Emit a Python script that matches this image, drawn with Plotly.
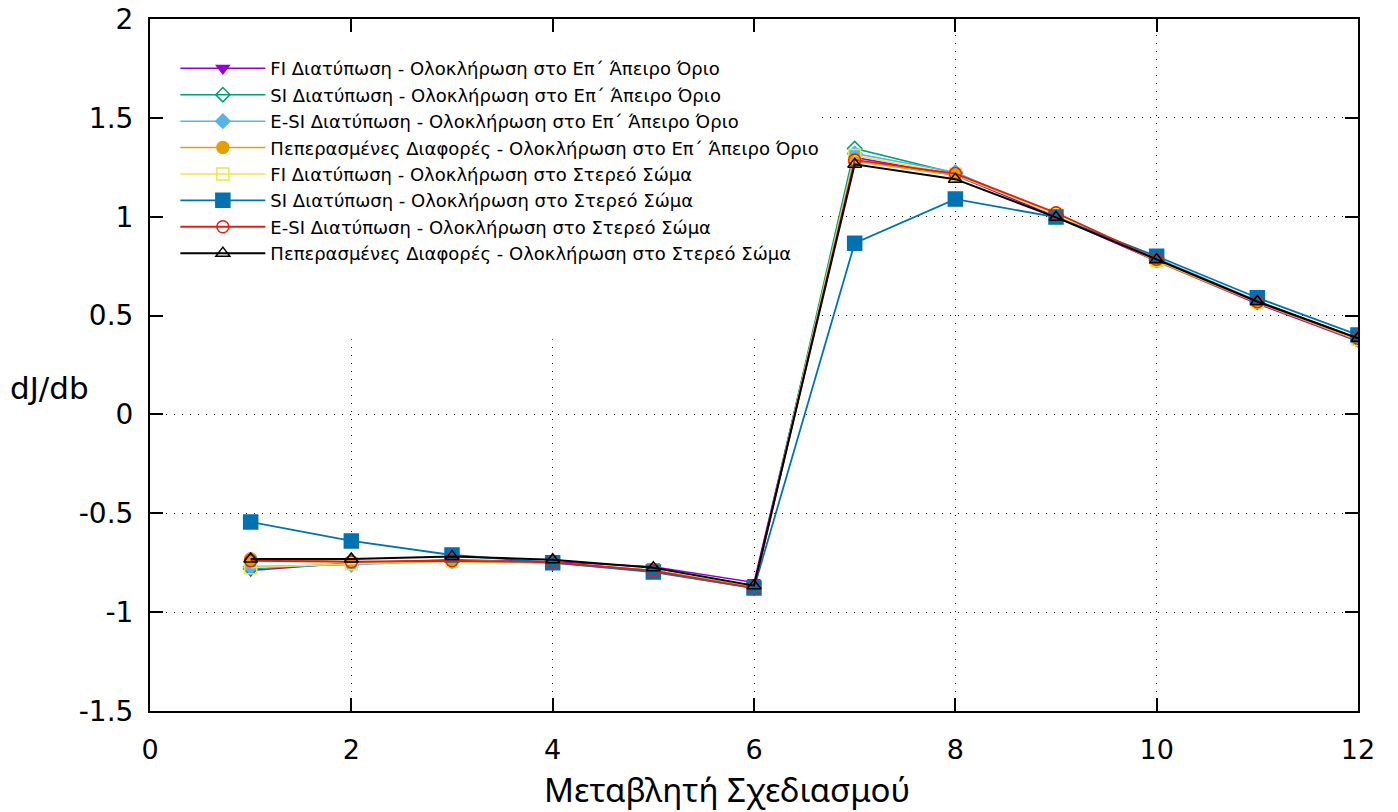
import plotly.graph_objects as go

x = [1, 2, 3, 4, 5, 6, 7, 8, 9, 10, 11, 12]

fi_inf = [-0.79, -0.75, -0.735, -0.745, -0.77, -0.85, 1.30, 1.21, 1.00, 0.775, 0.56, 0.37]
si_inf = [-0.78, -0.755, -0.74, -0.75, -0.79, -0.875, 1.345, 1.22, 1.01, 0.78, 0.57, 0.38]
esi_inf = [-0.77, -0.76, -0.74, -0.75, -0.795, -0.88, 1.32, 1.225, 1.01, 0.79, 0.575, 0.385]
fd_inf = [-0.73, -0.745, -0.745, -0.75, -0.79, -0.875, 1.28, 1.21, 1.015, 0.775, 0.565, 0.375]
fi_solid = [-0.775, -0.755, -0.74, -0.75, -0.79, -0.875, 1.31, 1.215, 1.01, 0.78, 0.57, 0.38]
si_solid = [-0.544, -0.64, -0.711, -0.75, -0.797, -0.878, 0.866, 1.089, 0.998, 0.80, 0.59, 0.402]
esi_solid = [-0.74, -0.745, -0.74, -0.748, -0.79, -0.878, 1.287, 1.218, 1.02, 0.785, 0.57, 0.385]
fd_solid = [-0.731, -0.731, -0.718, -0.735, -0.775, -0.866, 1.265, 1.19, 0.997, 0.783, 0.571, 0.385]

names = [
    "FI Διατύπωση - Ολοκλήρωση στο Επ΄ Άπειρο Όριο",
    "SI Διατύπωση - Ολοκλήρωση στο Επ΄ Άπειρο Όριο",
    "E-SI Διατύπωση - Ολοκλήρωση στο Επ΄ Άπειρο Όριο",
    "Πεπερασμένες Διαφορές - Ολοκλήρωση στο Επ΄ Άπειρο Όριο",
    "FI Διατύπωση - Ολοκλήρωση στο Στερεό Σώμα",
    "SI Διατύπωση - Ολοκλήρωση στο Στερεό Σώμα",
    "E-SI Διατύπωση - Ολοκλήρωση στο Στερεό Σώμα",
    "Πεπερασμένες Διαφορές - Ολοκλήρωση στο Στερεό Σώμα",
]
y_ticks = [-1.5, -1, -0.5, 0, 0.5, 1, 1.5, 2]
y_tick_labels = ["-1.5", "-1", "-0.5", "0", "0.5", "1", "1.5", "2"]
x_title = "Μεταβλητή Σχεδιασμού"
y_title = "dJ/db"

series = [fi_inf, si_inf, esi_inf, fd_inf, fi_solid, si_solid, esi_solid, fd_solid]
colors = ["#9400d3", "#009e73", "#56b4e9", "#e69f00", "#f0e442", "#0072b2", "#e51e10", "#000000"]
symbols = ["triangle-down", "diamond-open", "diamond", "circle", "square-open", "square", "circle-open", "triangle-up-open"]
sizes = [11, 11, 11, 12, 12, 14, 12, 12]
widths = [1.5, 1.5, 1.5, 1.5, 1.5, 1.8, 1.8, 2.0]

fig = go.Figure()
for i, (nm, ys) in enumerate(zip(names, series)):
    fig.add_trace(go.Scatter(
        x=x, y=ys, name=nm, mode="lines+markers",
        legendgroup=f"g{i}",
        line=dict(color=colors[i], width=widths[i]),
        marker=dict(symbol=symbols[i], size=sizes[i], color=colors[i],
                    line=dict(color=colors[i], width=1.5)),
    ))

fig.add_shape(type="rect", xref="x", yref="y", x0=0, x1=6.65, y0=0.38, y1=2,
              fillcolor="white", line=dict(width=0), layer="between")

fig.add_annotation(text=y_title, xref="paper", yref="paper", x=-0.083, y=0.467,
                   xanchor="center", yanchor="middle", showarrow=False,
                   font=dict(family="DejaVu Sans", size=31, color="black"))
fig.add_annotation(text=x_title, xref="paper", yref="paper", x=0.478, y=-0.114,
                   xanchor="center", yanchor="middle", showarrow=False,
                   font=dict(family="Noto Sans", size=33, color="black"))

axis_common = dict(
    showline=True, linecolor="black", linewidth=2, mirror="ticks",
    ticks="inside", ticklen=13, tickwidth=1.5, tickcolor="black",
    showgrid=True, gridcolor="black", gridwidth=1, griddash="1px,7px",
    zeroline=False, automargin=False, ticklabeloverflow="allow",
)

fig.update_xaxes(range=[0, 12], dtick=2, tick0=0,
                 tickfont=dict(family="DejaVu Sans", size=27, color="black"),
                 ticklabelstandoff=14,
                 **axis_common)
fig.update_yaxes(range=[-1.5, 2], tickvals=y_ticks, ticktext=y_tick_labels,
                 tickfont=dict(family="DejaVu Sans", size=28, color="black"),
                 ticklabelstandoff=9,
                 **axis_common)

fig.update_layout(
    width=1398, height=812,
    margin=dict(l=150, r=40, t=19, b=101, autoexpand=False),
    plot_bgcolor="white", paper_bgcolor="white",
    legend=dict(x=0.021, y=0.955, xanchor="left", yanchor="top",
                bgcolor="rgba(255,255,255,0)", borderwidth=0,
                font=dict(family="DejaVu Sans", size=18, color="black"),
                tracegroupgap=0, itemwidth=85),
    showlegend=True,
)

fig.write_html("out.html", config={"displayModeBar": False},
               post_script="document.body.style.margin='0px';")
